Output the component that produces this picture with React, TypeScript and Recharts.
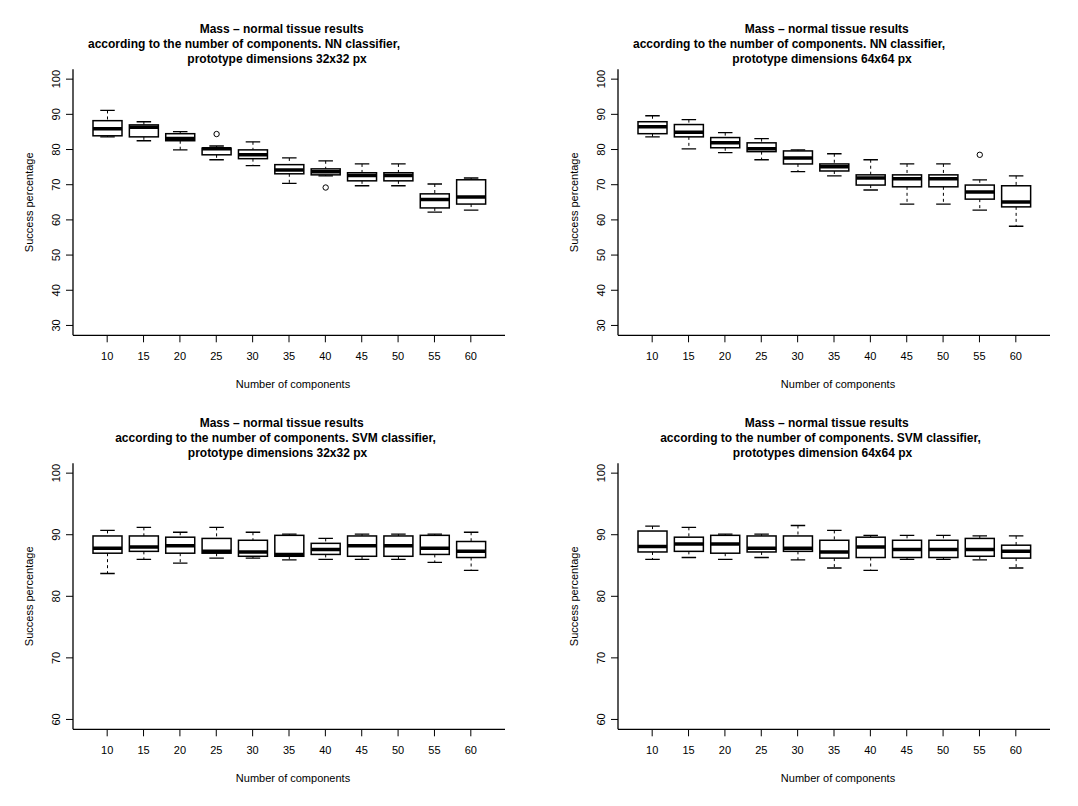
import { ComposedChart, Bar, XAxis, YAxis } from 'recharts'

const components = [10, 15, 20, 25, 30, 35, 40, 45, 50, 55, 60]

// [lower whisker, Q1, median, Q3, upper whisker] per number of components
const nn32Stats = [
  [83.6, 83.9, 85.9, 88.2, 91.1],
  [82.5, 83.6, 86.3, 87.0, 87.9],
  [79.9, 82.5, 83.1, 84.5, 85.1],
  [77.1, 78.5, 80.2, 80.4, 81.0],
  [75.4, 77.4, 78.5, 79.9, 82.2],
  [70.4, 73.1, 74.2, 75.7, 77.6],
  [72.5, 72.8, 73.7, 74.5, 76.8],
  [69.7, 71.1, 72.6, 73.4, 75.9],
  [69.7, 71.1, 72.6, 73.4, 75.9],
  [62.2, 63.4, 65.8, 67.4, 70.2],
  [62.8, 64.5, 66.5, 71.4, 71.9],
]
const nn32Outliers = [
  { comp: 25, value: 84.4 },
  { comp: 40, value: 69.2 },
]

const nn64Stats = [
  [83.6, 84.5, 86.5, 87.9, 89.6],
  [80.2, 83.6, 84.9, 87.1, 88.5],
  [79.1, 80.5, 81.9, 83.4, 84.8],
  [77.1, 79.4, 80.2, 81.9, 83.1],
  [73.7, 75.9, 77.6, 79.6, 79.9],
  [72.5, 73.9, 75.1, 75.9, 78.8],
  [68.5, 69.9, 71.9, 72.8, 77.1],
  [64.5, 69.4, 71.7, 72.8, 75.9],
  [64.5, 69.4, 71.7, 72.8, 75.9],
  [62.8, 65.9, 67.9, 69.9, 71.4],
  [58.2, 63.7, 65.1, 69.7, 72.5],
]
const nn64Outliers = [{ comp: 55, value: 78.5 }]

const svm32Stats = [
  [83.7, 87.0, 87.8, 89.8, 90.7],
  [86.0, 87.3, 88.0, 89.8, 91.2],
  [85.4, 87.0, 88.2, 89.6, 90.4],
  [86.2, 87.0, 87.3, 89.4, 91.2],
  [86.2, 86.5, 87.2, 89.1, 90.4],
  [85.9, 86.5, 86.8, 89.9, 90.1],
  [86.0, 86.8, 87.6, 88.6, 89.4],
  [86.0, 86.5, 88.2, 89.8, 90.1],
  [86.0, 86.5, 88.2, 89.8, 90.1],
  [85.5, 86.8, 87.8, 89.9, 90.1],
  [84.2, 86.3, 87.3, 88.9, 90.4],
]

const svm64Stats = [
  [86.0, 87.2, 88.1, 90.6, 91.4],
  [86.3, 87.3, 88.5, 89.6, 91.2],
  [86.0, 87.0, 88.5, 89.9, 90.1],
  [86.3, 87.2, 87.8, 89.8, 90.1],
  [85.9, 87.3, 87.8, 89.8, 91.5],
  [84.6, 86.2, 87.2, 89.1, 90.7],
  [84.2, 86.3, 88.0, 89.6, 89.9],
  [86.0, 86.3, 87.6, 89.1, 89.9],
  [86.0, 86.3, 87.6, 89.1, 89.9],
  [85.9, 86.5, 87.6, 89.4, 89.8],
  [84.6, 86.2, 87.3, 88.3, 89.8],
]

const nnTicks = [30, 40, 50, 60, 70, 80, 90, 100]
const svmTicks = [60, 70, 80, 90, 100]

const FONT = '"Liberation Sans", Arial, Helvetica, sans-serif'
const PANEL_W = 545
const PANEL_H = 394

interface Outlier {
  comp: number
  value: number
}

const buildRows = (stats: number[][], outliers: Outlier[]) =>
  components.map((c, i) => ({
    comp: String(c),
    lo: stats[i][0],
    q1: stats[i][1],
    med: stats[i][2],
    q3: stats[i][3],
    hi: stats[i][4],
    outliers: outliers.filter((o) => o.comp === c).map((o) => o.value),
  }))

// draws one R-style box using the bar's whisker range to map values to pixels
const BoxShape = (props: any) => {
  const { x, y, width, height, payload } = props
  if (!payload || height == null) return null
  const k = height / (payload.hi - payload.lo)
  const py = (v: number) => y + (payload.hi - v) * k
  const cx = x + width / 2
  const cap = width / 4
  return (
    <g>
      <line x1={cx} x2={cx} y1={py(payload.hi)} y2={py(payload.q3)} stroke="#000" strokeWidth={1} strokeDasharray="3 3" />
      <line x1={cx} x2={cx} y1={py(payload.q1)} y2={py(payload.lo)} stroke="#000" strokeWidth={1} strokeDasharray="3 3" />
      <line x1={cx - cap} x2={cx + cap} y1={py(payload.hi)} y2={py(payload.hi)} stroke="#000" strokeWidth={1.3} />
      <line x1={cx - cap} x2={cx + cap} y1={py(payload.lo)} y2={py(payload.lo)} stroke="#000" strokeWidth={1.3} />
      <rect x={x} y={py(payload.q3)} width={width} height={py(payload.q1) - py(payload.q3)} fill="#fff" stroke="#000" strokeWidth={1.5} />
      <line x1={x} x2={x + width} y1={py(payload.med)} y2={py(payload.med)} stroke="#000" strokeWidth={3.5} />
      {payload.outliers.map((v: number, i: number) => (
        <circle key={i} cx={cx} cy={py(v)} r={2.7} fill="none" stroke="#000" strokeWidth={1} />
      ))}
    </g>
  )
}

const XTick = (props: any) => {
  const { x, y, payload } = props
  return (
    <text x={x} y={y + 17.7} textAnchor="middle" fontSize={11} fontFamily={FONT} fill="#000">
      {payload.value}
    </text>
  )
}

const YTick = (props: any) => {
  const { x, y, payload } = props
  return (
    <text x={x} y={y} transform={`rotate(-90 ${x} ${y})`} textAnchor="middle" fontSize={11} fontFamily={FONT} fill="#000">
      {payload.value}
    </text>
  )
}

const frameLine = { stroke: '#000', strokeWidth: 1.3 }

interface PanelProps {
  left: number
  top: number
  stats: number[][]
  outliers: Outlier[]
  domain: [number, number]
  ticks: number[]
  title: string[]
  titleX: number[]
}

function BoxPanel({ left, top, stats, outliers, domain, ticks, title, titleX }: PanelProps) {
  const rows = buildRows(stats, outliers)
  return (
    <div style={{ position: 'absolute', left, top, width: PANEL_W, height: PANEL_H }}>
      <ComposedChart
        width={PANEL_W}
        height={PANEL_H}
        data={rows}
        margin={{ top: 69.3, right: 40, bottom: 28.7, left: 43 }}
      >
        <XAxis
          dataKey="comp"
          type="category"
          height={30}
          padding={{ left: 16, right: 16 }}
          axisLine={frameLine}
          tickLine={{ stroke: '#000' }}
          tickSize={7}
          tickMargin={0}
          tick={<XTick />}
          interval={0}
        />
        {/* top and right axes only close the plot frame */}
        <XAxis xAxisId="top" orientation="top" dataKey="comp" height={0} axisLine={frameLine} tick={false} tickLine={false} />
        <YAxis
          type="number"
          width={30}
          domain={domain}
          ticks={ticks}
          allowDataOverflow
          axisLine={frameLine}
          tickLine={{ stroke: '#000' }}
          tickSize={7}
          tickMargin={6}
          tick={<YTick />}
          interval={0}
        />
        <YAxis yAxisId="right" orientation="right" width={0} domain={domain} allowDataOverflow axisLine={frameLine} tick={false} tickLine={false} />
        <Bar dataKey={(d: any) => [d.lo, d.hi]} barSize={29} shape={<BoxShape />} isAnimationActive={false} />
      </ComposedChart>
      <svg
        width={PANEL_W}
        height={PANEL_H}
        style={{ position: 'absolute', left: 0, top: 0, pointerEvents: 'none' }}
      >
        {title.map((line, i) => (
          <text
            key={i}
            x={titleX[i]}
            y={32.5 + i * 15}
            textAnchor="middle"
            fontSize={12}
            fontWeight="bold"
            fontFamily={FONT}
            fill="#000"
          >
            {line}
          </text>
        ))}
        <text x={293} y={388} textAnchor="middle" fontSize={11} fontFamily={FONT} fill="#000">
          Number of components
        </text>
        <text
          x={33}
          y={202.3}
          transform="rotate(-90 33 202.3)"
          textAnchor="middle"
          fontSize={11}
          fontFamily={FONT}
          fill="#000"
        >
          Success percentage
        </text>
      </svg>
    </div>
  )
}

export default function App() {
  return (
    <div style={{ position: 'absolute', left: 0, top: 0, width: 1078, height: 806, background: '#fff' }}>
      <BoxPanel
        left={0}
        top={0}
        stats={nn32Stats}
        outliers={nn32Outliers}
        domain={[27.2, 102.8]}
        ticks={nnTicks}
        title={[
          'Mass – normal tissue results',
          'according to the number of components. NN classifier,',
          'prototype dimensions 32x32 px',
        ]}
        titleX={[281.7, 244, 277]}
      />
      <BoxPanel
        left={PANEL_W}
        top={0}
        stats={nn64Stats}
        outliers={nn64Outliers}
        domain={[27.2, 102.8]}
        ticks={nnTicks}
        title={[
          'Mass – normal tissue results',
          'according to the number of components. NN classifier,',
          'prototype dimensions 64x64 px',
        ]}
        titleX={[281.7, 244, 277]}
      />
      <BoxPanel
        left={0}
        top={PANEL_H}
        stats={svm32Stats}
        outliers={[]}
        domain={[58.4, 101.6]}
        ticks={svmTicks}
        title={[
          'Mass – normal tissue results',
          'according to the number of components. SVM classifier,',
          'prototype dimensions 32x32 px',
        ]}
        titleX={[281.7, 275.5, 277.5]}
      />
      <BoxPanel
        left={PANEL_W}
        top={PANEL_H}
        stats={svm64Stats}
        outliers={[]}
        domain={[58.4, 101.6]}
        ticks={svmTicks}
        title={[
          'Mass – normal tissue results',
          'according to the number of components. SVM classifier,',
          'prototypes dimension 64x64 px',
        ]}
        titleX={[281.7, 275.5, 277.5]}
      />
    </div>
  )
}
